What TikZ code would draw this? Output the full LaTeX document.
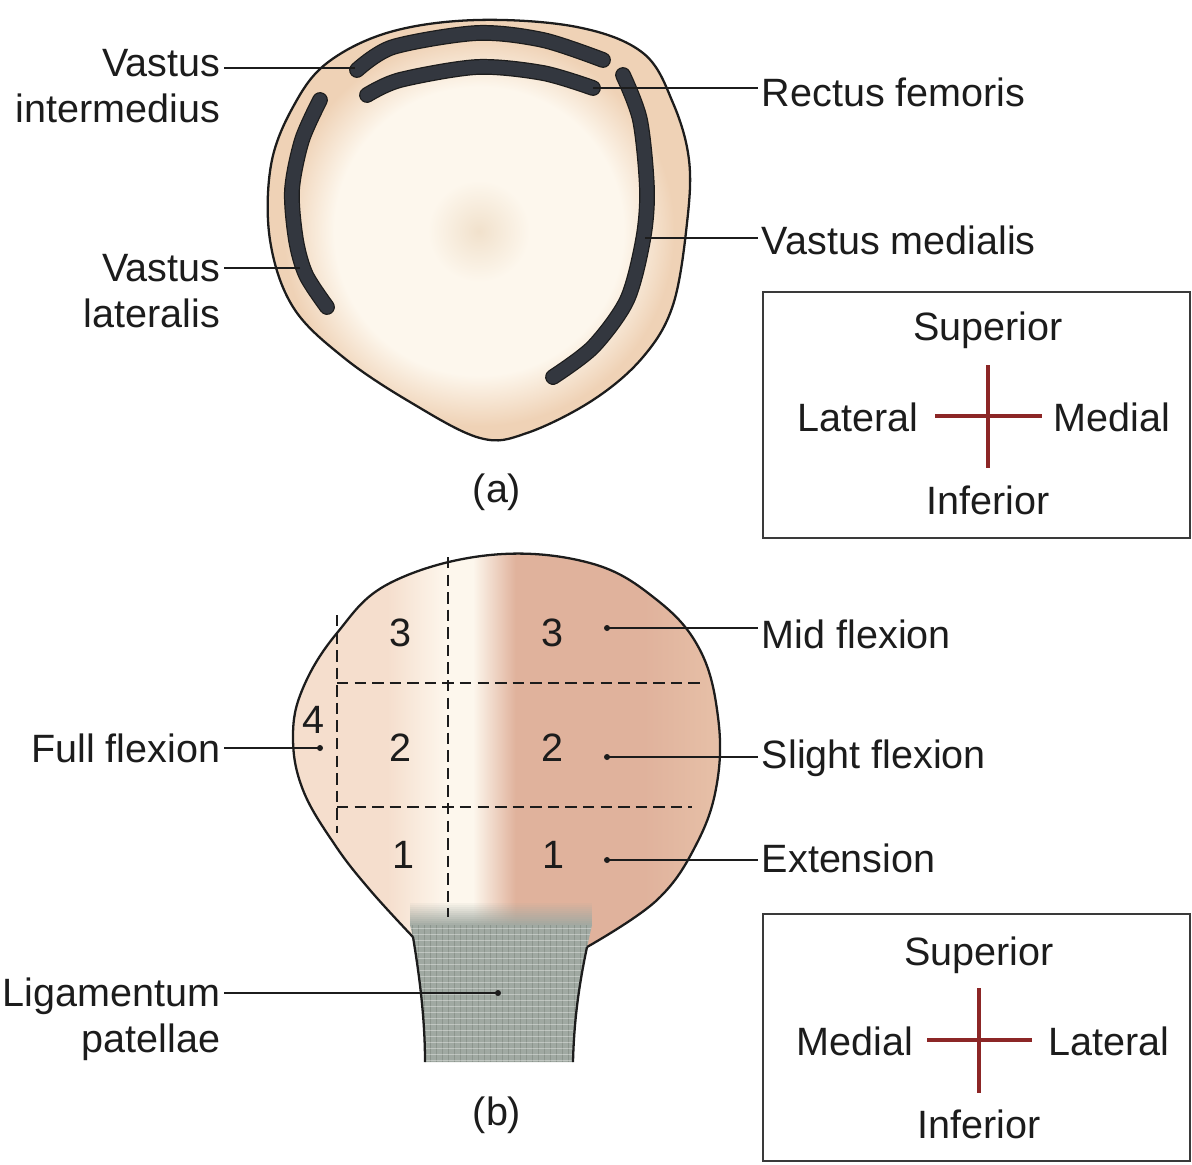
\documentclass[tikz,border=0pt]{standalone}
\usepackage{fontspec}
\setmainfont{Liberation Sans}
\usetikzlibrary{calc}
\definecolor{cink}{HTML}{1C1C1C}
\definecolor{cmus}{HTML}{33373F}
\definecolor{crim}{HTML}{EFD2B6}
\definecolor{ccream}{HTML}{FDF7ED}
\definecolor{ccore}{HTML}{F1E1CC}
\definecolor{cpale}{HTML}{F5DECD}
\definecolor{crose}{HTML}{E0B29C}
\definecolor{clig}{HTML}{A0A9A2}
\definecolor{cligd}{HTML}{7F8980}
\definecolor{ccross}{HTML}{8C2626}
\definecolor{cframe}{HTML}{3A3A3A}

% cross section: cream inside, peach rim
\pgfdeclareradialshading{cutshade}{\pgfpoint{0bp}{0bp}}{color(0bp)=(ccore); color(6bp)=(ccream); color(17bp)=(ccream); color(23bp)=(crim); color(50bp)=(crim)}
% front face: pale left, light stripe, rosy right
\pgfdeclarehorizontalshading{faceshade}{100bp}{color(0bp)=(cpale); color(36bp)=(cpale); color(43bp)=(ccream); color(46bp)=(ccream); color(51bp)=(crose); color(66bp)=(crose); color(75bp)=(crose!55!crim); color(100bp)=(crose!55!crim)}

\begin{document}
\begin{tikzpicture}[x=0.02cm, y=-0.02cm,
  font=\fontsize{22.5}{26}\selectfont,
  lbl/.style={text=cink, inner sep=2pt},
  lblr/.style={lbl, anchor=west},
  lbll/.style={lbl, anchor=east, align=right},
  num/.style={text=cink, inner sep=1pt},
  lead/.style={draw=cink, line width=1.1pt},
  muscle/.style={draw=cink, double=cmus, double distance=7.6pt, line width=0.7pt, line cap=round},
  outline/.style={draw=cink, line width=1.3pt},
  zone/.style={draw=cink, line width=1.3pt, dash pattern=on 6.5pt off 3.5pt},
  dirline/.style={draw=ccross, line width=2.3pt},
  dirbox/.style={draw=cframe, line width=1.3pt},
]
\useasboundingbox (0,0) rectangle (1192,1164);

% ------------------------------------------------------------------ (a) cross section
\shadedraw[shading=cutshade, outline] plot[smooth cycle, tension=0.6] coordinates {
  (477,20) (577,27) (643,53) (673,103) (689,160) (687,223) (673,305) (643,357)
  (593,400) (527,433) (480,438) (410,402) (343,357) (293,307) (270,240) (271,165)
  (293,107) (327,63) (390,32)};

\draw[muscle] plot[smooth] coordinates {(357,70) (393,47) (477,33) (543,40) (603,60)};
\draw[muscle] plot[smooth] coordinates {(367,95) (400,80) (477,67) (543,73) (593,88)};
\draw[muscle] plot[smooth] coordinates {(320,100) (302,140) (292,190) (296,240) (306,275) (327,307)};
\draw[muscle] plot[smooth] coordinates {(623,75) (640,120) (647,190) (643,240) (627,300) (593,347) (553,377)};

\coordinate (vint) at (355,68);
\coordinate (rfem) at (593,88);
\coordinate (vmed) at (645,238);
\coordinate (vlat) at (300,268);

\node[lbll] (vinttxt) at (224,86) {Vastus\\intermedius};
\node[lbll] (vlattxt) at (224,291) {Vastus\\lateralis};
\node[lblr] (rfemtxt) at (758,92) {Rectus femoris};
\node[lblr] (vmedtxt) at (758,240) {Vastus medialis};
\node[lbl] (alabel) at (497,492) {(a)};

\draw[lead] (vint) -- (vint -| vinttxt.east);
\draw[lead] (vlat) -- (vlat -| vlattxt.east);
\draw[lead] (rfem) -- (rfem -| rfemtxt.west);
\draw[lead] (vmed) -- (vmed -| vmedtxt.west);

% ------------------------------------------------------------------ directions for (a)
\draw[dirbox] (763,292) rectangle (1190,538);
\coordinate (dira) at (988,416);
\draw[dirline] ($(dira)+(-53,0)$) -- ($(dira)+(54,0)$);
\draw[dirline] ($(dira)+(0,-51)$) -- ($(dira)+(0,52)$);
\node[lbl] (supa) at ($(dira)+(0,-86)$) {Superior};
\node[lbl] (infa) at ($(dira)+(0,84)$) {Inferior};
\node[lbl, anchor=east] (lata) at ($(dira)+(-66,1)$) {Lateral};
\node[lbl, anchor=west] (meda) at ($(dira)+(62,1)$) {Medial};

% ------------------------------------------------------------------ (b) front view
\coordinate (ligl) at (413,937);
\coordinate (ligr) at (587,947);
\coordinate (ligbl) at (425,1062);
\coordinate (ligbr) at (573,1062);

\path[shading=faceshade] plot[smooth, tension=0.65] coordinates {
  (ligl) (370,890) (335,845) (303,790) (293,737) (303,688) (337,633) (390,583)
  (490,555) (590,563) (657,600) (700,650) (718,717) (717,783) (697,843) (657,900) (ligr)}
  -- (580,975) -- (420,975) -- cycle;

% ligament, fading in from the bone
\foreach \i in {1,...,11}
  \fill[clig, opacity=\i/12] (410,901+2*\i) rectangle (592,903+2*\i);
\fill[clig] (410,925) -- (ligl) .. controls (421,985) and (425,1025) .. (ligbl)
  -- (ligbr) .. controls (574,1020) and (579,985) .. (ligr) -- (592,925) -- cycle;
\begin{scope}
  \clip (410,925) -- (ligl) .. controls (421,985) and (425,1025) .. (ligbl)
    -- (ligbr) .. controls (574,1020) and (579,985) .. (ligr) -- (592,925) -- cycle;
  \foreach \x in {412,418,...,592}
    \draw[cligd, line width=0.5pt, opacity=0.6] (\x,925) -- (\x,1062);
  \foreach \y in {928,934,...,1062}
    \draw[white, line width=0.5pt, opacity=0.35] (410,\y) -- (592,\y);
\end{scope}

\draw[outline] plot[smooth, tension=0.65] coordinates {
  (ligl) (370,890) (335,845) (303,790) (293,737) (303,688) (337,633) (390,583)
  (490,555) (590,563) (657,600) (700,650) (718,717) (717,783) (697,843) (657,900) (ligr)};
\draw[outline] (ligl) .. controls (421,985) and (425,1025) .. (ligbl);
\draw[outline] (ligr) .. controls (579,985) and (574,1020) .. (ligbr);

% flexion zones
\draw[zone] (448,557) -- (448,917);
\draw[zone] (337,615) -- (337,833);
\draw[zone] (337,683) -- (703,683);
\draw[zone] (337,807) -- (692,807);

\node[num] (z3a) at (400,633) {3};
\node[num] (z3b) at (552,633) {3};
\node[num] (z2a) at (400,748) {2};
\node[num] (z2b) at (552,748) {2};
\node[num] (z1a) at (403,855) {1};
\node[num] (z1b) at (553,855) {1};
\node[num] (z4)  at (313,720) {4};

\coordinate (midf) at (607,628);
\coordinate (slif) at (607,757);
\coordinate (extn) at (607,860);
\coordinate (fulf) at (320,748);
\coordinate (ligp) at (498,993);

\node[lblr] (midftxt) at (758,634) {Mid flexion};
\node[lblr] (sliftxt) at (758,758) {Slight flexion};
\node[lblr] (extntxt) at (758,858) {Extension};
\node[lbll] (fulftxt) at (224,748) {Full flexion};
\node[lbll] (ligptxt) at (224,1019) {Ligamentum\\patellae};
\node[lbl] (blabel) at (497,1115) {(b)};

\draw[lead] (midf) -- (midf -| midftxt.west);
\draw[lead] (slif) -- (slif -| sliftxt.west);
\draw[lead] (extn) -- (extn -| extntxt.west);
\draw[lead] (fulf) -- (fulf -| fulftxt.east);
\draw[lead] (ligp) -- (ligp -| ligptxt.east);
\foreach \p in {midf,slif,extn,fulf,ligp}
  \fill[cink] (\p) circle (3);

% ------------------------------------------------------------------ directions for (b)
\draw[dirbox] (763,914) rectangle (1190,1161);
\coordinate (dirb) at (979,1040);
\draw[dirline] ($(dirb)+(-52,0)$) -- ($(dirb)+(53,0)$);
\draw[dirline] ($(dirb)+(0,-52)$) -- ($(dirb)+(0,53)$);
\node[lbl] (supb) at ($(dirb)+(0,-85)$) {Superior};
\node[lbl] (infb) at ($(dirb)+(0,84)$) {Inferior};
\node[lbl, anchor=east] (medb) at ($(dirb)+(-62,1)$) {Medial};
\node[lbl, anchor=west] (latb) at ($(dirb)+(66,1)$) {Lateral};
\end{tikzpicture}
\end{document}
